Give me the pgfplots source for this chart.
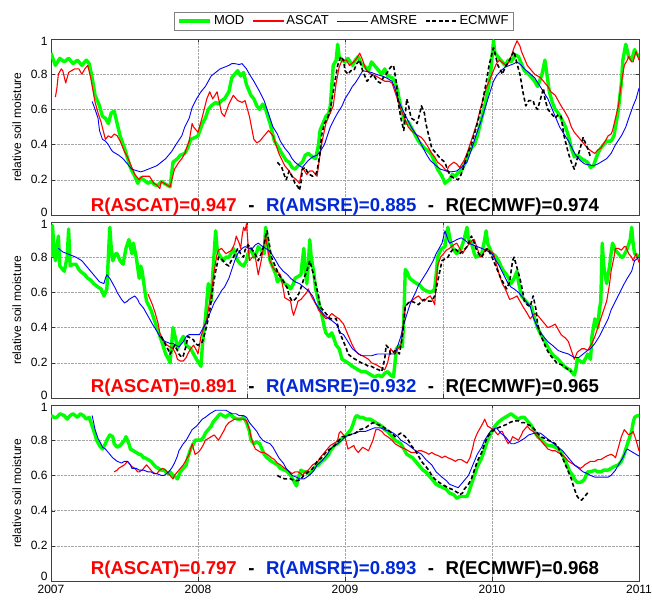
\documentclass[border=0pt]{standalone}
\usepackage{fontspec}
\setmainfont{Liberation Sans}
\usepackage{pgfplots}
\pgfplotsset{compat=1.18}
\definecolor{modgreen}{RGB}{0,255,0}
\definecolor{ascred}{RGB}{255,0,0}
\definecolor{amsblue}{RGB}{0,0,255}
\definecolor{txtblue}{RGB}{0,40,215}
\newcommand{\lup}[1]{\raisebox{2.5bp}[\height][\depth]{#1}}
\newcommand{\lupmore}[1]{\raisebox{4.5bp}[\height][\depth]{#1}}
\newcommand{\ldown}[1]{\raisebox{-2.5bp}[\height][\depth]{#1}}

\pgfplotsset{
  soilpanel/.style={
    scale only axis, width=588bp, height=176bp,
    xmin=0, xmax=4, ymin=0, ymax=1,
    ytick={0,0.2,0.4,0.6,0.8,1},
    yticklabels={\lup{0},0.2,0.4,0.6,0.8,\ldown{1}},
    xtick={0,1,2,3,4},
    xticklabels={},
    grid=major,
    major grid style={densely dotted, gray!70},
    tick align=inside,
    major tick length=3.5bp,
    tick style={black!80},
    axis line style={black!75},
    /pgf/number format/assume math mode=true,
    ticklabel style={font=\fontsize{12bp}{13bp}\selectfont},
    yticklabel style={inner ysep=0.3bp},
    xticklabel style={inner ysep=2bp, yshift=-1.5bp},
    ylabel={relative soil moisture},
    ylabel style={font=\fontsize{12bp}{14bp}\selectfont, at={(axis description cs:-0.058,0.5)}, anchor=center},
    clip=true,
  },
  modline/.style={color=modgreen, line width=3.4bp, line join=round},
  ascline/.style={color=ascred, line width=1.1bp, line join=round},
  amsline/.style={color=amsblue, line width=0.9bp, line join=round},
  ecmline/.style={color=black, line width=1.6bp, dash pattern=on 4bp off 2.5bp, line join=round},
}
\tikzset{rlabel/.style={font=\bfseries\fontsize{18.6bp}{20bp}\selectfont, anchor=center, inner sep=0pt}}
\newcommand{\sep}{\hspace{11.5bp}-\hspace{11.5bp}}

\begin{document}
\begin{tikzpicture}
\useasboundingbox (0,0) rectangle (652bp,601bp);

% ---------------- panel 1 ----------------
\begin{axis}[soilpanel, at={(51bp,386bp)}, anchor=south west,
  legend columns=4,
  legend style={at={(0.4985,1.102)}, anchor=center, draw=gray, line width=0.6bp,
    font=\fontsize{13bp}{15bp}\selectfont, inner xsep=3bp, inner ysep=1.5bp,
    /tikz/every even column/.append style={column sep=6bp}},
  legend image code/.code={\draw[#1] (0bp,0bp) -- (31bp,0bp);},
]
\addplot[modline] coordinates {(0,0.92)(0.03,0.85)(0.06,0.89)(0.09,0.87)(0.12,0.89)(0.15,0.86)(0.18,0.88)(0.21,0.85)(0.24,0.88)(0.26,0.86)(0.28,0.78)(0.30,0.68)(0.33,0.62)(0.35,0.56)(0.37,0.55)(0.39,0.52)(0.41,0.58)(0.43,0.59)(0.45,0.52)(0.47,0.45)(0.50,0.38)(0.54,0.27)(0.57,0.22)(0.59,0.18)(0.61,0.21)(0.63,0.20)(0.66,0.18)(0.68,0.19)(0.71,0.17)(0.73,0.17)(0.75,0.19)(0.77,0.18)(0.79,0.17)(0.81,0.16)(0.83,0.30)(0.86,0.32)(0.88,0.34)(0.91,0.35)(0.93,0.38)(0.95,0.43)(0.98,0.44)(1.00,0.45)(1.03,0.52)(1.05,0.55)(1.07,0.60)(1.09,0.62)(1.12,0.64)(1.14,0.63)(1.16,0.65)(1.18,0.66)(1.21,0.70)(1.23,0.78)(1.25,0.80)(1.27,0.82)(1.29,0.79)(1.31,0.81)(1.33,0.74)(1.34,0.72)(1.36,0.68)(1.38,0.66)(1.40,0.62)(1.42,0.60)(1.44,0.63)(1.46,0.60)(1.49,0.52)(1.52,0.42)(1.55,0.38)(1.57,0.35)(1.60,0.31)(1.62,0.30)(1.64,0.27)(1.66,0.26)(1.68,0.28)(1.71,0.30)(1.73,0.34)(1.75,0.35)(1.78,0.33)(1.80,0.32)(1.82,0.40)(1.83,0.48)(1.85,0.52)(1.87,0.56)(1.89,0.58)(1.90,0.62)(1.92,0.85)(1.94,0.88)(1.95,0.97)(1.96,0.90)(1.98,0.88)(2.00,0.87)(2.02,0.89)(2.05,0.85)(2.07,0.88)(2.09,0.90)(2.11,0.86)(2.14,0.84)(2.16,0.82)(2.18,0.87)(2.20,0.85)(2.23,0.82)(2.25,0.80)(2.27,0.83)(2.29,0.79)(2.32,0.78)(2.34,0.76)(2.36,0.70)(2.37,0.65)(2.39,0.58)(2.41,0.52)(2.43,0.53)(2.45,0.50)(2.48,0.45)(2.50,0.42)(2.52,0.40)(2.54,0.38)(2.57,0.36)(2.59,0.34)(2.61,0.30)(2.63,0.26)(2.66,0.22)(2.68,0.18)(2.71,0.20)(2.73,0.23)(2.75,0.22)(2.77,0.24)(2.79,0.25)(2.82,0.30)(2.84,0.35)(2.86,0.38)(2.88,0.40)(2.90,0.45)(2.93,0.55)(2.95,0.62)(2.97,0.70)(2.99,0.80)(3.01,0.99)(3.02,0.92)(3.04,0.90)(3.07,0.87)(3.09,0.85)(3.11,0.88)(3.13,0.87)(3.16,0.91)(3.18,0.90)(3.20,0.86)(3.22,0.82)(3.25,0.80)(3.27,0.78)(3.29,0.76)(3.31,0.73)(3.34,0.80)(3.36,0.88)(3.37,0.82)(3.39,0.70)(3.41,0.64)(3.43,0.60)(3.45,0.58)(3.47,0.55)(3.50,0.50)(3.52,0.45)(3.54,0.38)(3.56,0.33)(3.58,0.34)(3.61,0.32)(3.63,0.31)(3.65,0.30)(3.67,0.27)(3.69,0.28)(3.72,0.35)(3.74,0.38)(3.76,0.40)(3.78,0.42)(3.81,0.42)(3.83,0.45)(3.86,0.60)(3.88,0.75)(3.89,0.88)(3.91,0.97)(3.93,0.90)(3.95,0.88)(3.97,0.94)(3.98,0.92)(4.00,0.90)};
\addlegendentry{MOD}
\addplot[ascline] coordinates {(0.03,0.67)(0.04,0.72)(0.05,0.80)(0.07,0.83)(0.08,0.82)(0.10,0.75)(0.12,0.81)(0.14,0.82)(0.16,0.83)(0.19,0.83)(0.21,0.80)(0.23,0.83)(0.25,0.85)(0.27,0.78)(0.30,0.64)(0.32,0.58)(0.34,0.53)(0.37,0.43)(0.39,0.45)(0.41,0.44)(0.43,0.46)(0.45,0.45)(0.47,0.42)(0.50,0.36)(0.52,0.33)(0.55,0.27)(0.57,0.23)(0.60,0.20)(0.62,0.22)(0.64,0.22)(0.67,0.22)(0.70,0.18)(0.72,0.17)(0.74,0.15)(0.75,0.19)(0.77,0.18)(0.79,0.17)(0.81,0.16)(0.84,0.26)(0.87,0.30)(0.89,0.32)(0.91,0.35)(0.94,0.42)(0.96,0.52)(0.97,0.50)(1.00,0.47)(1.03,0.56)(1.06,0.66)(1.08,0.70)(1.10,0.66)(1.13,0.70)(1.15,0.62)(1.16,0.58)(1.18,0.56)(1.21,0.63)(1.24,0.68)(1.27,0.65)(1.30,0.64)(1.32,0.65)(1.35,0.56)(1.38,0.43)(1.40,0.41)(1.42,0.42)(1.44,0.44)(1.46,0.46)(1.48,0.48)(1.51,0.45)(1.53,0.40)(1.55,0.35)(1.59,0.28)(1.62,0.25)(1.64,0.22)(1.67,0.20)(1.69,0.18)(1.71,0.27)(1.74,0.23)(1.76,0.25)(1.78,0.25)(1.81,0.22)(1.84,0.40)(1.87,0.52)(1.90,0.58)(1.92,0.62)(1.94,0.75)(1.96,0.84)(1.98,0.88)(2.01,0.88)(2.03,0.85)(2.06,0.87)(2.08,0.89)(2.10,0.92)(2.12,0.88)(2.14,0.83)(2.16,0.81)(2.18,0.80)(2.21,0.79)(2.23,0.78)(2.25,0.77)(2.27,0.76)(2.30,0.76)(2.32,0.75)(2.34,0.70)(2.36,0.65)(2.38,0.60)(2.41,0.54)(2.43,0.50)(2.45,0.48)(2.48,0.46)(2.50,0.45)(2.52,0.44)(2.54,0.42)(2.57,0.38)(2.59,0.35)(2.61,0.33)(2.63,0.30)(2.66,0.28)(2.69,0.25)(2.71,0.28)(2.74,0.30)(2.76,0.29)(2.78,0.27)(2.81,0.31)(2.83,0.35)(2.85,0.40)(2.87,0.45)(2.90,0.53)(2.92,0.60)(2.94,0.66)(2.96,0.72)(2.99,0.78)(3.01,0.82)(3.03,0.86)(3.05,0.88)(3.08,0.86)(3.10,0.85)(3.12,0.88)(3.13,0.90)(3.15,0.95)(3.17,0.99)(3.19,0.96)(3.20,0.93)(3.22,0.89)(3.24,0.85)(3.27,0.82)(3.29,0.80)(3.31,0.79)(3.33,0.78)(3.36,0.75)(3.38,0.73)(3.40,0.70)(3.43,0.68)(3.45,0.65)(3.47,0.62)(3.50,0.58)(3.52,0.55)(3.54,0.50)(3.56,0.47)(3.59,0.44)(3.61,0.42)(3.63,0.40)(3.65,0.38)(3.68,0.36)(3.70,0.35)(3.72,0.37)(3.74,0.38)(3.77,0.42)(3.79,0.45)(3.81,0.46)(3.82,0.48)(3.84,0.55)(3.86,0.62)(3.88,0.75)(3.90,0.85)(3.92,0.88)(3.93,0.90)(3.95,0.87)(3.96,0.87)(3.98,0.93)(4.00,0.88)};
\addlegendentry{ASCAT}
\addplot[amsline] coordinates {(0.28,0.645)(0.30,0.60)(0.32,0.55)(0.33,0.48)(0.35,0.43)(0.37,0.42)(0.39,0.40)(0.41,0.37)(0.42,0.36)(0.44,0.35)(0.46,0.34)(0.49,0.32)(0.51,0.30)(0.53,0.28)(0.55,0.26)(0.57,0.255)(0.59,0.25)(0.61,0.245)(0.63,0.25)(0.66,0.26)(0.69,0.27)(0.72,0.28)(0.75,0.30)(0.78,0.32)(0.82,0.36)(0.85,0.40)(0.89,0.45)(0.91,0.50)(0.94,0.55)(0.96,0.61)(0.99,0.66)(1.02,0.70)(1.05,0.73)(1.07,0.76)(1.09,0.79)(1.12,0.81)(1.15,0.83)(1.18,0.84)(1.21,0.85)(1.23,0.86)(1.25,0.86)(1.28,0.855)(1.30,0.86)(1.33,0.83)(1.35,0.80)(1.38,0.76)(1.40,0.73)(1.42,0.70)(1.45,0.65)(1.47,0.60)(1.49,0.55)(1.51,0.50)(1.54,0.46)(1.56,0.42)(1.59,0.38)(1.62,0.35)(1.64,0.32)(1.66,0.30)(1.69,0.28)(1.71,0.27)(1.73,0.29)(1.75,0.31)(1.78,0.33)(1.81,0.34)(1.83,0.36)(1.86,0.40)(1.88,0.45)(1.90,0.50)(1.93,0.55)(1.95,0.58)(1.98,0.62)(2.00,0.66)(2.03,0.70)(2.05,0.73)(2.07,0.75)(2.10,0.79)(2.12,0.82)(2.15,0.815)(2.18,0.81)(2.21,0.80)(2.25,0.79)(2.28,0.78)(2.32,0.76)(2.34,0.72)(2.36,0.66)(2.39,0.60)(2.42,0.55)(2.45,0.50)(2.49,0.45)(2.52,0.40)(2.55,0.35)(2.58,0.31)(2.62,0.28)(2.65,0.26)(2.69,0.25)(2.72,0.245)(2.76,0.25)(2.79,0.27)(2.83,0.30)(2.86,0.37)(2.89,0.45)(2.92,0.52)(2.95,0.60)(2.98,0.68)(3.01,0.76)(3.03,0.79)(3.06,0.82)(3.09,0.84)(3.12,0.85)(3.15,0.86)(3.17,0.87)(3.20,0.85)(3.22,0.83)(3.25,0.81)(3.29,0.78)(3.32,0.74)(3.35,0.70)(3.38,0.66)(3.40,0.62)(3.43,0.56)(3.46,0.50)(3.49,0.46)(3.52,0.42)(3.55,0.37)(3.57,0.34)(3.60,0.31)(3.63,0.29)(3.66,0.285)(3.69,0.28)(3.72,0.29)(3.74,0.30)(3.78,0.32)(3.81,0.35)(3.84,0.40)(3.88,0.45)(3.91,0.50)(3.93,0.55)(3.96,0.62)(3.98,0.66)(4.00,0.72)};
\addlegendentry{AMSRE}
\addplot[ecmline] coordinates {(1.54,0.30)(1.57,0.27)(1.59,0.22)(1.60,0.20)(1.62,0.25)(1.64,0.22)(1.66,0.18)(1.68,0.16)(1.69,0.14)(1.70,0.18)(1.71,0.26)(1.73,0.27)(1.74,0.25)(1.76,0.23)(1.78,0.22)(1.80,0.23)(1.81,0.25)(1.83,0.35)(1.84,0.45)(1.86,0.52)(1.88,0.55)(1.90,0.60)(1.91,0.65)(1.93,0.75)(1.95,0.85)(1.97,0.90)(1.99,0.88)(2.00,0.82)(2.02,0.80)(2.04,0.82)(2.06,0.82)(2.08,0.86)(2.10,0.88)(2.12,0.82)(2.15,0.76)(2.17,0.78)(2.19,0.80)(2.22,0.76)(2.24,0.75)(2.26,0.78)(2.28,0.80)(2.31,0.84)(2.33,0.85)(2.35,0.75)(2.36,0.65)(2.38,0.55)(2.40,0.48)(2.42,0.66)(2.43,0.63)(2.45,0.55)(2.47,0.54)(2.49,0.52)(2.51,0.58)(2.52,0.62)(2.54,0.58)(2.55,0.52)(2.57,0.45)(2.59,0.38)(2.61,0.36)(2.63,0.34)(2.65,0.32)(2.68,0.30)(2.70,0.25)(2.72,0.22)(2.74,0.21)(2.77,0.20)(2.79,0.23)(2.81,0.28)(2.83,0.34)(2.86,0.40)(2.88,0.46)(2.90,0.52)(2.93,0.62)(2.96,0.75)(2.98,0.85)(3.01,0.95)(3.02,0.92)(3.04,0.85)(3.06,0.82)(3.07,0.80)(3.09,0.84)(3.12,0.88)(3.13,0.90)(3.15,0.93)(3.17,0.86)(3.19,0.80)(3.21,0.70)(3.23,0.62)(3.25,0.65)(3.28,0.65)(3.29,0.62)(3.31,0.60)(3.33,0.66)(3.35,0.72)(3.36,0.66)(3.38,0.60)(3.40,0.58)(3.43,0.55)(3.45,0.57)(3.47,0.56)(3.49,0.45)(3.52,0.35)(3.54,0.30)(3.56,0.26)(3.58,0.32)(3.60,0.38)(3.62,0.44)(3.64,0.40)(3.65,0.38)(3.67,0.33)};
\addlegendentry{ECMWF}
\node[rlabel] at (axis cs:2.0,0.05) {\textcolor{ascred}{R(ASCAT)=0.947}\sep\textcolor{txtblue}{R(AMSRE)=0.885}\sep R(ECMWF)=0.974};
\end{axis}

% ---------------- panel 2 ----------------
\begin{axis}[soilpanel, at={(51bp,203bp)}, anchor=south west, xtick={1.333,2.667}]
\addplot[modline] coordinates {(0,0.80)(0.01,0.98)(0.02,0.85)(0.03,0.78)(0.04,0.85)(0.05,0.92)(0.06,0.75)(0.08,0.73)(0.09,0.72)(0.11,0.80)(0.12,0.96)(0.13,0.75)(0.15,0.76)(0.17,0.76)(0.19,0.73)(0.20,0.72)(0.23,0.70)(0.25,0.68)(0.27,0.67)(0.29,0.65)(0.32,0.63)(0.34,0.62)(0.36,0.58)(0.38,0.62)(0.39,0.80)(0.40,0.97)(0.41,0.85)(0.42,0.78)(0.44,0.82)(0.45,0.82)(0.47,0.78)(0.49,0.76)(0.51,0.85)(0.53,0.90)(0.55,0.82)(0.56,0.88)(0.58,0.80)(0.60,0.68)(0.61,0.75)(0.62,0.72)(0.64,0.60)(0.65,0.55)(0.68,0.50)(0.70,0.45)(0.72,0.40)(0.75,0.33)(0.78,0.25)(0.80,0.22)(0.81,0.20)(0.82,0.30)(0.83,0.40)(0.85,0.33)(0.86,0.28)(0.88,0.32)(0.90,0.35)(0.92,0.30)(0.95,0.28)(0.97,0.25)(0.99,0.22)(1.02,0.18)(1.03,0.30)(1.05,0.45)(1.06,0.55)(1.07,0.65)(1.09,0.55)(1.10,0.70)(1.12,0.95)(1.13,0.85)(1.14,0.82)(1.17,0.78)(1.19,0.80)(1.21,0.80)(1.23,0.83)(1.24,0.85)(1.26,0.80)(1.27,0.78)(1.29,0.76)(1.31,0.75)(1.33,0.78)(1.34,0.82)(1.36,0.85)(1.38,0.80)(1.40,0.83)(1.41,0.86)(1.43,0.84)(1.45,0.82)(1.46,0.97)(1.48,0.85)(1.49,0.78)(1.51,0.74)(1.53,0.70)(1.54,0.66)(1.56,0.68)(1.58,0.66)(1.59,0.65)(1.61,0.64)(1.63,0.62)(1.65,0.65)(1.66,0.68)(1.68,0.69)(1.70,0.70)(1.71,0.78)(1.72,0.85)(1.73,0.72)(1.74,0.65)(1.75,0.75)(1.76,0.90)(1.77,0.80)(1.79,0.70)(1.80,0.62)(1.82,0.55)(1.84,0.48)(1.86,0.40)(1.87,0.37)(1.89,0.35)(1.91,0.37)(1.92,0.35)(1.94,0.30)(1.96,0.28)(1.98,0.22)(2.00,0.21)(2.02,0.20)(2.05,0.18)(2.07,0.17)(2.09,0.16)(2.11,0.15)(2.14,0.15)(2.16,0.14)(2.18,0.13)(2.20,0.12)(2.23,0.13)(2.25,0.12)(2.27,0.14)(2.29,0.15)(2.31,0.13)(2.33,0.12)(2.34,0.20)(2.35,0.28)(2.37,0.30)(2.39,0.29)(2.40,0.45)(2.41,0.73)(2.42,0.72)(2.44,0.68)(2.47,0.66)(2.49,0.65)(2.51,0.64)(2.53,0.62)(2.55,0.61)(2.58,0.60)(2.60,0.61)(2.61,0.62)(2.62,0.70)(2.63,0.80)(2.65,0.84)(2.66,0.85)(2.68,0.86)(2.69,0.92)(2.70,0.97)(2.71,0.92)(2.72,0.88)(2.74,0.84)(2.76,0.82)(2.78,0.84)(2.79,0.85)(2.81,0.90)(2.83,0.97)(2.84,0.90)(2.86,0.88)(2.88,0.82)(2.89,0.80)(2.91,0.81)(2.93,0.82)(2.95,0.90)(2.96,0.95)(2.97,0.88)(3.00,0.82)(3.02,0.81)(3.03,0.80)(3.05,0.77)(3.06,0.75)(3.08,0.72)(3.10,0.70)(3.12,0.67)(3.13,0.65)(3.15,0.68)(3.17,0.72)(3.18,0.66)(3.20,0.58)(3.22,0.56)(3.23,0.55)(3.25,0.53)(3.27,0.52)(3.28,0.48)(3.29,0.45)(3.31,0.40)(3.32,0.38)(3.34,0.35)(3.36,0.32)(3.38,0.29)(3.40,0.26)(3.42,0.24)(3.45,0.22)(3.47,0.20)(3.49,0.18)(3.51,0.17)(3.53,0.16)(3.55,0.14)(3.56,0.13)(3.57,0.16)(3.58,0.22)(3.60,0.21)(3.62,0.20)(3.64,0.23)(3.65,0.25)(3.67,0.22)(3.68,0.35)(3.70,0.45)(3.71,0.42)(3.72,0.40)(3.73,0.50)(3.74,0.55)(3.75,0.88)(3.76,0.75)(3.78,0.65)(3.79,0.70)(3.80,0.75)(3.81,0.82)(3.82,0.88)(3.84,0.84)(3.86,0.82)(3.88,0.80)(3.89,0.80)(3.91,0.83)(3.92,0.85)(3.94,0.90)(3.95,0.97)(3.96,0.88)(3.97,0.82)(3.99,0.81)(4.00,0.80)};
\addplot[ascline] coordinates {(0.66,0.59)(0.68,0.55)(0.69,0.53)(0.71,0.48)(0.73,0.42)(0.74,0.37)(0.76,0.33)(0.78,0.31)(0.79,0.30)(0.81,0.29)(0.83,0.28)(0.85,0.25)(0.86,0.22)(0.88,0.21)(0.90,0.21)(0.92,0.23)(0.93,0.25)(0.95,0.28)(0.97,0.30)(0.99,0.27)(1.00,0.25)(1.02,0.35)(1.04,0.40)(1.06,0.45)(1.08,0.55)(1.09,0.60)(1.11,0.72)(1.13,0.82)(1.14,0.84)(1.16,0.85)(1.18,0.83)(1.19,0.82)(1.21,0.83)(1.23,0.84)(1.25,0.88)(1.26,0.92)(1.28,0.88)(1.29,0.85)(1.30,0.92)(1.31,0.97)(1.32,0.95)(1.33,0.99)(1.34,0.88)(1.35,0.78)(1.37,0.80)(1.39,0.80)(1.41,0.70)(1.42,0.74)(1.43,0.78)(1.45,0.88)(1.46,0.92)(1.48,0.82)(1.49,0.78)(1.51,0.74)(1.53,0.72)(1.55,0.71)(1.56,0.70)(1.58,0.62)(1.59,0.57)(1.61,0.56)(1.63,0.55)(1.64,0.50)(1.65,0.47)(1.67,0.52)(1.68,0.55)(1.70,0.56)(1.72,0.58)(1.74,0.60)(1.75,0.62)(1.77,0.58)(1.79,0.55)(1.81,0.52)(1.82,0.50)(1.85,0.47)(1.87,0.45)(1.89,0.46)(1.91,0.48)(1.94,0.46)(1.96,0.45)(1.99,0.42)(2.01,0.38)(2.03,0.34)(2.05,0.30)(2.07,0.27)(2.09,0.25)(2.12,0.24)(2.14,0.23)(2.16,0.22)(2.18,0.20)(2.21,0.19)(2.23,0.18)(2.25,0.17)(2.27,0.16)(2.29,0.20)(2.31,0.28)(2.33,0.26)(2.34,0.25)(2.36,0.28)(2.38,0.30)(2.40,0.45)(2.41,0.52)(2.43,0.54)(2.45,0.55)(2.48,0.57)(2.50,0.58)(2.52,0.56)(2.54,0.55)(2.56,0.57)(2.58,0.58)(2.60,0.55)(2.61,0.53)(2.62,0.65)(2.63,0.75)(2.65,0.80)(2.67,0.82)(2.69,0.84)(2.71,0.85)(2.74,0.87)(2.76,0.88)(2.78,0.85)(2.80,0.82)(2.82,0.85)(2.85,0.88)(2.87,0.90)(2.88,0.90)(2.90,0.85)(2.92,0.80)(2.94,0.82)(2.96,0.85)(2.98,0.84)(3.01,0.82)(3.03,0.76)(3.05,0.70)(3.07,0.65)(3.09,0.62)(3.11,0.58)(3.12,0.56)(3.15,0.57)(3.17,0.58)(3.19,0.55)(3.21,0.52)(3.24,0.48)(3.26,0.45)(3.29,0.48)(3.31,0.47)(3.33,0.45)(3.36,0.42)(3.38,0.40)(3.41,0.41)(3.43,0.42)(3.45,0.39)(3.47,0.36)(3.50,0.34)(3.52,0.32)(3.54,0.27)(3.56,0.22)(3.58,0.26)(3.61,0.28)(3.63,0.28)(3.65,0.27)(3.68,0.31)(3.70,0.35)(3.72,0.40)(3.74,0.45)(3.76,0.50)(3.78,0.55)(3.80,0.65)(3.81,0.72)(3.83,0.80)(3.84,0.85)(3.86,0.85)(3.88,0.84)(3.90,0.86)(3.91,0.86)(3.93,0.82)(3.95,0.80)(3.96,0.78)(3.98,0.82)(4.00,0.77)};
\addplot[amsline] coordinates {(0.05,0.85)(0.08,0.83)(0.11,0.82)(0.14,0.81)(0.17,0.80)(0.19,0.79)(0.21,0.78)(0.24,0.75)(0.27,0.72)(0.30,0.69)(0.33,0.66)(0.36,0.65)(0.37,0.68)(0.38,0.70)(0.40,0.68)(0.42,0.65)(0.44,0.62)(0.45,0.60)(0.48,0.56)(0.50,0.54)(0.52,0.55)(0.53,0.56)(0.55,0.57)(0.57,0.58)(0.59,0.56)(0.60,0.54)(0.63,0.51)(0.65,0.48)(0.67,0.45)(0.69,0.42)(0.72,0.38)(0.74,0.35)(0.76,0.33)(0.78,0.32)(0.81,0.31)(0.83,0.31)(0.85,0.30)(0.87,0.29)(0.90,0.32)(0.92,0.35)(0.94,0.36)(0.97,0.36)(0.99,0.36)(1.01,0.36)(1.03,0.39)(1.05,0.42)(1.07,0.46)(1.09,0.50)(1.11,0.54)(1.14,0.58)(1.16,0.61)(1.18,0.63)(1.21,0.68)(1.23,0.73)(1.25,0.78)(1.27,0.82)(1.30,0.85)(1.32,0.86)(1.35,0.85)(1.37,0.85)(1.39,0.87)(1.41,0.88)(1.44,0.86)(1.46,0.85)(1.48,0.84)(1.50,0.82)(1.53,0.78)(1.55,0.75)(1.58,0.72)(1.61,0.70)(1.63,0.68)(1.66,0.66)(1.69,0.65)(1.72,0.63)(1.75,0.61)(1.78,0.58)(1.80,0.54)(1.83,0.50)(1.86,0.47)(1.89,0.45)(1.91,0.44)(1.94,0.42)(1.97,0.37)(1.99,0.36)(2.02,0.32)(2.05,0.28)(2.08,0.26)(2.11,0.24)(2.15,0.24)(2.18,0.24)(2.22,0.25)(2.27,0.25)(2.31,0.25)(2.34,0.25)(2.36,0.30)(2.38,0.35)(2.40,0.42)(2.43,0.50)(2.45,0.55)(2.48,0.60)(2.50,0.64)(2.53,0.68)(2.56,0.72)(2.58,0.75)(2.60,0.78)(2.62,0.82)(2.64,0.85)(2.66,0.88)(2.68,0.95)(2.70,0.90)(2.71,0.88)(2.74,0.89)(2.76,0.90)(2.79,0.91)(2.81,0.90)(2.84,0.88)(2.87,0.87)(2.90,0.86)(2.93,0.85)(2.96,0.84)(3.00,0.82)(3.02,0.79)(3.05,0.75)(3.08,0.70)(3.11,0.65)(3.13,0.63)(3.15,0.62)(3.18,0.60)(3.20,0.58)(3.23,0.55)(3.26,0.52)(3.28,0.46)(3.31,0.40)(3.34,0.36)(3.38,0.32)(3.41,0.30)(3.45,0.27)(3.48,0.26)(3.52,0.25)(3.56,0.23)(3.59,0.23)(3.62,0.25)(3.65,0.27)(3.67,0.28)(3.70,0.31)(3.73,0.35)(3.76,0.40)(3.79,0.45)(3.81,0.50)(3.84,0.55)(3.87,0.60)(3.90,0.65)(3.92,0.68)(3.95,0.72)(3.97,0.78)(4.00,0.80)};
\addplot[ecmline] coordinates {(0.75,0.35)(0.77,0.32)(0.78,0.30)(0.80,0.27)(0.81,0.25)(0.83,0.28)(0.84,0.30)(0.86,0.27)(0.87,0.25)(0.89,0.23)(0.90,0.24)(0.92,0.30)(0.93,0.35)(0.95,0.34)(0.97,0.33)(0.98,0.31)(1.00,0.30)(1.02,0.31)(1.03,0.32)(1.05,0.38)(1.07,0.45)(1.09,0.55)(1.10,0.62)(1.12,0.72)(1.14,0.80)(1.16,0.79)(1.17,0.78)(1.19,0.76)(1.21,0.75)(1.22,0.77)(1.24,0.80)(1.26,0.83)(1.27,0.85)(1.29,0.82)(1.31,0.80)(1.32,0.84)(1.34,0.87)(1.36,0.85)(1.38,0.83)(1.40,0.80)(1.41,0.78)(1.43,0.82)(1.45,0.87)(1.46,0.92)(1.47,0.95)(1.49,0.85)(1.50,0.80)(1.52,0.76)(1.54,0.72)(1.55,0.70)(1.57,0.68)(1.59,0.65)(1.61,0.62)(1.62,0.58)(1.64,0.55)(1.66,0.56)(1.67,0.57)(1.69,0.60)(1.71,0.65)(1.72,0.68)(1.74,0.72)(1.76,0.78)(1.78,0.72)(1.80,0.65)(1.82,0.58)(1.83,0.52)(1.85,0.50)(1.87,0.48)(1.89,0.46)(1.90,0.45)(1.92,0.45)(1.94,0.45)(1.96,0.38)(1.99,0.32)(2.01,0.28)(2.02,0.25)(2.05,0.23)(2.07,0.22)(2.09,0.21)(2.11,0.20)(2.14,0.19)(2.16,0.18)(2.18,0.18)(2.20,0.17)(2.23,0.16)(2.25,0.15)(2.27,0.22)(2.28,0.30)(2.30,0.28)(2.31,0.25)(2.33,0.26)(2.34,0.27)(2.36,0.26)(2.37,0.25)(2.39,0.35)(2.41,0.52)(2.43,0.54)(2.45,0.55)(2.48,0.54)(2.50,0.53)(2.52,0.55)(2.54,0.56)(2.57,0.55)(2.59,0.55)(2.61,0.58)(2.62,0.62)(2.64,0.70)(2.66,0.78)(2.68,0.79)(2.70,0.80)(2.72,0.83)(2.74,0.85)(2.76,0.84)(2.78,0.82)(2.81,0.84)(2.83,0.86)(2.85,0.90)(2.86,0.92)(2.88,0.88)(2.89,0.85)(2.91,0.82)(2.93,0.80)(2.95,0.83)(2.97,0.85)(3.00,0.80)(3.02,0.76)(3.04,0.72)(3.06,0.68)(3.08,0.65)(3.10,0.62)(3.12,0.66)(3.13,0.72)(3.14,0.78)(3.15,0.80)(3.17,0.74)(3.19,0.68)(3.21,0.60)(3.22,0.55)(3.24,0.53)(3.26,0.52)(3.27,0.55)(3.28,0.58)(3.30,0.50)(3.31,0.42)(3.33,0.36)(3.35,0.32)(3.37,0.28)(3.39,0.25)(3.42,0.22)(3.44,0.20)(3.47,0.19)(3.49,0.18)(3.52,0.16)(3.54,0.15)};
\node[rlabel] at (axis cs:2.0,0.06) {\textcolor{ascred}{R(ASCAT)=0.891}\sep\textcolor{txtblue}{R(AMSRE)=0.932}\sep R(ECMWF)=0.965};
\end{axis}

% ---------------- panel 3 ----------------
\begin{axis}[soilpanel, at={(51bp,20bp)}, anchor=south west,
  yticklabels={\lupmore{0},0.2,0.4,0.6,0.8,\ldown{1}},
  xticklabels={2007,2008,2009,2010,2011}]
\addplot[modline] coordinates {(0,0.94)(0.02,0.93)(0.04,0.93)(0.06,0.95)(0.09,0.94)(0.11,0.92)(0.13,0.94)(0.15,0.95)(0.18,0.93)(0.20,0.95)(0.22,0.94)(0.24,0.92)(0.26,0.93)(0.28,0.88)(0.30,0.83)(0.31,0.80)(0.33,0.77)(0.35,0.75)(0.37,0.78)(0.38,0.80)(0.40,0.83)(0.42,0.82)(0.43,0.78)(0.45,0.76)(0.47,0.77)(0.48,0.78)(0.50,0.80)(0.51,0.82)(0.53,0.78)(0.54,0.75)(0.56,0.74)(0.58,0.73)(0.60,0.72)(0.61,0.72)(0.63,0.70)(0.64,0.70)(0.66,0.69)(0.68,0.68)(0.70,0.66)(0.71,0.65)(0.73,0.64)(0.75,0.63)(0.77,0.63)(0.78,0.62)(0.80,0.61)(0.81,0.62)(0.83,0.60)(0.85,0.59)(0.86,0.58)(0.88,0.62)(0.90,0.64)(0.92,0.66)(0.93,0.70)(0.95,0.75)(0.97,0.78)(0.98,0.80)(1.00,0.80)(1.02,0.80)(1.04,0.82)(1.05,0.84)(1.07,0.86)(1.09,0.88)(1.10,0.90)(1.12,0.92)(1.14,0.94)(1.15,0.95)(1.17,0.94)(1.19,0.93)(1.20,0.94)(1.22,0.95)(1.24,0.93)(1.27,0.92)(1.29,0.92)(1.31,0.93)(1.33,0.90)(1.35,0.85)(1.36,0.80)(1.38,0.78)(1.40,0.79)(1.42,0.78)(1.44,0.74)(1.45,0.72)(1.47,0.70)(1.50,0.68)(1.52,0.67)(1.54,0.66)(1.56,0.64)(1.59,0.63)(1.61,0.62)(1.63,0.60)(1.65,0.57)(1.67,0.54)(1.68,0.58)(1.70,0.63)(1.72,0.62)(1.73,0.62)(1.75,0.61)(1.77,0.62)(1.79,0.64)(1.80,0.65)(1.82,0.66)(1.84,0.68)(1.86,0.69)(1.87,0.70)(1.89,0.72)(1.90,0.74)(1.93,0.77)(1.95,0.78)(1.98,0.81)(2.00,0.82)(2.02,0.84)(2.04,0.86)(2.05,0.88)(2.07,0.93)(2.08,0.94)(2.10,0.93)(2.12,0.93)(2.14,0.92)(2.17,0.92)(2.19,0.91)(2.21,0.90)(2.23,0.89)(2.25,0.88)(2.27,0.86)(2.29,0.85)(2.32,0.82)(2.34,0.80)(2.36,0.79)(2.38,0.78)(2.40,0.75)(2.42,0.72)(2.44,0.71)(2.46,0.70)(2.49,0.67)(2.51,0.65)(2.53,0.63)(2.55,0.62)(2.58,0.59)(2.60,0.57)(2.62,0.55)(2.64,0.54)(2.67,0.53)(2.69,0.52)(2.71,0.50)(2.74,0.49)(2.76,0.47)(2.78,0.48)(2.81,0.48)(2.83,0.48)(2.84,0.50)(2.86,0.55)(2.88,0.60)(2.90,0.65)(2.93,0.70)(2.95,0.75)(2.97,0.80)(3.00,0.85)(3.02,0.88)(3.04,0.90)(3.07,0.92)(3.09,0.93)(3.11,0.94)(3.13,0.95)(3.16,0.93)(3.18,0.92)(3.20,0.93)(3.22,0.93)(3.25,0.90)(3.27,0.88)(3.29,0.85)(3.31,0.82)(3.34,0.80)(3.36,0.78)(3.38,0.77)(3.40,0.77)(3.43,0.76)(3.45,0.75)(3.47,0.73)(3.49,0.70)(3.51,0.66)(3.53,0.62)(3.55,0.60)(3.56,0.58)(3.58,0.56)(3.60,0.56)(3.62,0.57)(3.63,0.58)(3.65,0.62)(3.67,0.62)(3.70,0.63)(3.72,0.62)(3.74,0.62)(3.76,0.63)(3.79,0.63)(3.81,0.64)(3.83,0.65)(3.86,0.66)(3.88,0.68)(3.90,0.72)(3.91,0.75)(3.93,0.80)(3.95,0.85)(3.96,0.90)(3.97,0.93)(3.99,0.94)(4.00,0.94)};
\addplot[ascline] coordinates {(0.43,0.62)(0.45,0.63)(0.46,0.64)(0.48,0.65)(0.50,0.66)(0.52,0.68)(0.53,0.67)(0.55,0.65)(0.57,0.64)(0.59,0.62)(0.60,0.62)(0.62,0.63)(0.64,0.65)(0.65,0.66)(0.67,0.64)(0.69,0.62)(0.71,0.61)(0.72,0.61)(0.74,0.63)(0.76,0.64)(0.78,0.63)(0.79,0.62)(0.81,0.60)(0.83,0.58)(0.84,0.60)(0.86,0.62)(0.88,0.64)(0.90,0.66)(0.92,0.69)(0.94,0.72)(0.96,0.78)(0.97,0.75)(0.98,0.72)(1.00,0.73)(1.02,0.75)(1.04,0.78)(1.05,0.80)(1.07,0.81)(1.09,0.82)(1.11,0.83)(1.12,0.82)(1.14,0.80)(1.16,0.83)(1.18,0.86)(1.19,0.88)(1.21,0.90)(1.23,0.91)(1.25,0.92)(1.27,0.92)(1.29,0.92)(1.31,0.92)(1.33,0.91)(1.35,0.86)(1.36,0.82)(1.38,0.77)(1.39,0.75)(1.41,0.74)(1.43,0.73)(1.45,0.73)(1.47,0.72)(1.50,0.70)(1.52,0.69)(1.54,0.67)(1.56,0.66)(1.59,0.64)(1.61,0.63)(1.64,0.61)(1.66,0.62)(1.68,0.62)(1.70,0.61)(1.71,0.60)(1.73,0.62)(1.75,0.63)(1.77,0.65)(1.78,0.66)(1.80,0.67)(1.81,0.67)(1.83,0.70)(1.85,0.72)(1.87,0.74)(1.88,0.75)(1.90,0.77)(1.92,0.78)(1.94,0.79)(1.95,0.80)(1.96,0.84)(1.97,0.85)(1.99,0.83)(2.00,0.82)(2.02,0.75)(2.04,0.76)(2.06,0.77)(2.07,0.75)(2.09,0.73)(2.11,0.75)(2.12,0.76)(2.14,0.75)(2.16,0.74)(2.18,0.78)(2.19,0.80)(2.21,0.86)(2.23,0.86)(2.25,0.85)(2.27,0.83)(2.29,0.82)(2.32,0.80)(2.34,0.78)(2.36,0.77)(2.38,0.76)(2.41,0.75)(2.43,0.74)(2.45,0.73)(2.48,0.73)(2.50,0.74)(2.52,0.74)(2.55,0.73)(2.57,0.72)(2.59,0.73)(2.61,0.72)(2.64,0.71)(2.66,0.70)(2.68,0.71)(2.70,0.70)(2.73,0.69)(2.75,0.68)(2.77,0.69)(2.79,0.69)(2.81,0.68)(2.83,0.67)(2.85,0.70)(2.87,0.76)(2.88,0.80)(2.90,0.84)(2.92,0.87)(2.94,0.90)(2.95,0.92)(2.97,0.88)(2.99,0.87)(3.01,0.86)(3.03,0.84)(3.04,0.83)(3.06,0.85)(3.07,0.85)(3.09,0.81)(3.11,0.78)(3.13,0.80)(3.14,0.82)(3.16,0.81)(3.18,0.80)(3.20,0.83)(3.21,0.85)(3.23,0.87)(3.24,0.88)(3.26,0.86)(3.28,0.85)(3.30,0.83)(3.31,0.82)(3.33,0.80)(3.35,0.78)(3.37,0.76)(3.38,0.75)(3.41,0.74)(3.43,0.74)(3.45,0.73)(3.47,0.72)(3.50,0.70)(3.52,0.68)(3.54,0.67)(3.56,0.66)(3.58,0.65)(3.60,0.64)(3.62,0.65)(3.63,0.66)(3.65,0.67)(3.67,0.68)(3.70,0.68)(3.72,0.69)(3.74,0.69)(3.76,0.70)(3.78,0.71)(3.81,0.72)(3.83,0.71)(3.84,0.70)(3.86,0.76)(3.88,0.82)(3.90,0.86)(3.92,0.84)(3.93,0.83)(3.95,0.84)(3.96,0.85)(3.98,0.80)(4.00,0.74)};
\addplot[amsline] coordinates {(0.28,0.94)(0.29,0.90)(0.30,0.86)(0.32,0.81)(0.34,0.78)(0.35,0.76)(0.37,0.75)(0.39,0.73)(0.40,0.72)(0.42,0.70)(0.45,0.68)(0.48,0.67)(0.50,0.68)(0.52,0.68)(0.54,0.66)(0.55,0.64)(0.58,0.64)(0.60,0.63)(0.63,0.63)(0.66,0.62)(0.68,0.62)(0.70,0.61)(0.72,0.61)(0.75,0.60)(0.77,0.60)(0.80,0.62)(0.82,0.64)(0.84,0.67)(0.86,0.71)(0.87,0.74)(0.90,0.78)(0.92,0.80)(0.94,0.83)(0.96,0.86)(0.99,0.88)(1.01,0.90)(1.03,0.92)(1.05,0.93)(1.08,0.95)(1.10,0.96)(1.12,0.97)(1.14,0.97)(1.17,0.97)(1.19,0.97)(1.21,0.96)(1.23,0.95)(1.26,0.95)(1.28,0.94)(1.31,0.94)(1.33,0.93)(1.35,0.90)(1.37,0.88)(1.40,0.85)(1.42,0.82)(1.44,0.80)(1.46,0.79)(1.49,0.78)(1.51,0.76)(1.53,0.73)(1.55,0.70)(1.58,0.67)(1.60,0.64)(1.62,0.62)(1.64,0.60)(1.67,0.59)(1.69,0.58)(1.72,0.58)(1.74,0.59)(1.77,0.61)(1.79,0.63)(1.81,0.66)(1.84,0.68)(1.86,0.70)(1.88,0.72)(1.90,0.75)(1.93,0.77)(1.95,0.78)(1.98,0.80)(2.00,0.82)(2.03,0.83)(2.07,0.84)(2.10,0.85)(2.14,0.85)(2.17,0.86)(2.20,0.87)(2.24,0.87)(2.27,0.86)(2.30,0.85)(2.33,0.84)(2.36,0.82)(2.38,0.80)(2.42,0.78)(2.45,0.76)(2.48,0.74)(2.52,0.72)(2.55,0.69)(2.59,0.66)(2.62,0.62)(2.66,0.59)(2.69,0.57)(2.71,0.55)(2.74,0.54)(2.77,0.53)(2.79,0.55)(2.81,0.57)(2.84,0.60)(2.86,0.64)(2.88,0.68)(2.90,0.72)(2.93,0.76)(2.95,0.80)(2.98,0.84)(3.00,0.86)(3.03,0.87)(3.05,0.85)(3.06,0.84)(3.09,0.82)(3.11,0.80)(3.13,0.78)(3.15,0.78)(3.18,0.79)(3.22,0.81)(3.25,0.83)(3.29,0.84)(3.33,0.84)(3.36,0.82)(3.39,0.80)(3.42,0.78)(3.45,0.76)(3.48,0.74)(3.50,0.72)(3.53,0.69)(3.56,0.66)(3.59,0.64)(3.62,0.62)(3.65,0.61)(3.67,0.60)(3.70,0.59)(3.73,0.59)(3.76,0.59)(3.79,0.59)(3.81,0.60)(3.84,0.63)(3.86,0.66)(3.89,0.70)(3.91,0.74)(3.92,0.75)(3.94,0.74)(3.96,0.73)(3.98,0.72)(4.00,0.71)};
\addplot[ecmline] coordinates {(1.54,0.60)(1.56,0.59)(1.59,0.58)(1.61,0.58)(1.63,0.58)(1.66,0.57)(1.68,0.57)(1.70,0.58)(1.72,0.60)(1.75,0.62)(1.77,0.63)(1.79,0.65)(1.81,0.68)(1.84,0.70)(1.86,0.72)(1.88,0.74)(1.90,0.75)(1.93,0.77)(1.95,0.79)(1.98,0.82)(2.00,0.82)(2.03,0.83)(2.07,0.84)(2.10,0.86)(2.14,0.87)(2.17,0.89)(2.19,0.90)(2.22,0.89)(2.25,0.88)(2.27,0.87)(2.29,0.86)(2.32,0.84)(2.34,0.82)(2.36,0.83)(2.38,0.84)(2.41,0.82)(2.43,0.80)(2.45,0.77)(2.48,0.74)(2.50,0.71)(2.52,0.68)(2.55,0.65)(2.57,0.63)(2.59,0.60)(2.61,0.58)(2.64,0.56)(2.66,0.55)(2.68,0.54)(2.70,0.53)(2.73,0.52)(2.75,0.51)(2.77,0.50)(2.78,0.49)(2.80,0.50)(2.81,0.52)(2.84,0.55)(2.86,0.58)(2.88,0.63)(2.90,0.68)(2.93,0.73)(2.95,0.78)(2.97,0.82)(3.00,0.85)(3.02,0.86)(3.04,0.87)(3.07,0.88)(3.10,0.89)(3.12,0.90)(3.15,0.91)(3.18,0.91)(3.20,0.90)(3.22,0.90)(3.24,0.89)(3.27,0.88)(3.29,0.86)(3.31,0.84)(3.33,0.82)(3.36,0.81)(3.38,0.80)(3.41,0.79)(3.43,0.78)(3.45,0.76)(3.47,0.72)(3.49,0.68)(3.52,0.62)(3.54,0.58)(3.55,0.55)(3.57,0.50)(3.58,0.48)(3.60,0.46)(3.61,0.46)(3.63,0.48)(3.65,0.50)(3.66,0.51)};
\node[rlabel] at (axis cs:2.0,0.065) {\textcolor{ascred}{R(ASCAT)=0.797}\sep\textcolor{txtblue}{R(AMSRE)=0.893}\sep R(ECMWF)=0.968};
\end{axis}
\end{tikzpicture}
\end{document}
